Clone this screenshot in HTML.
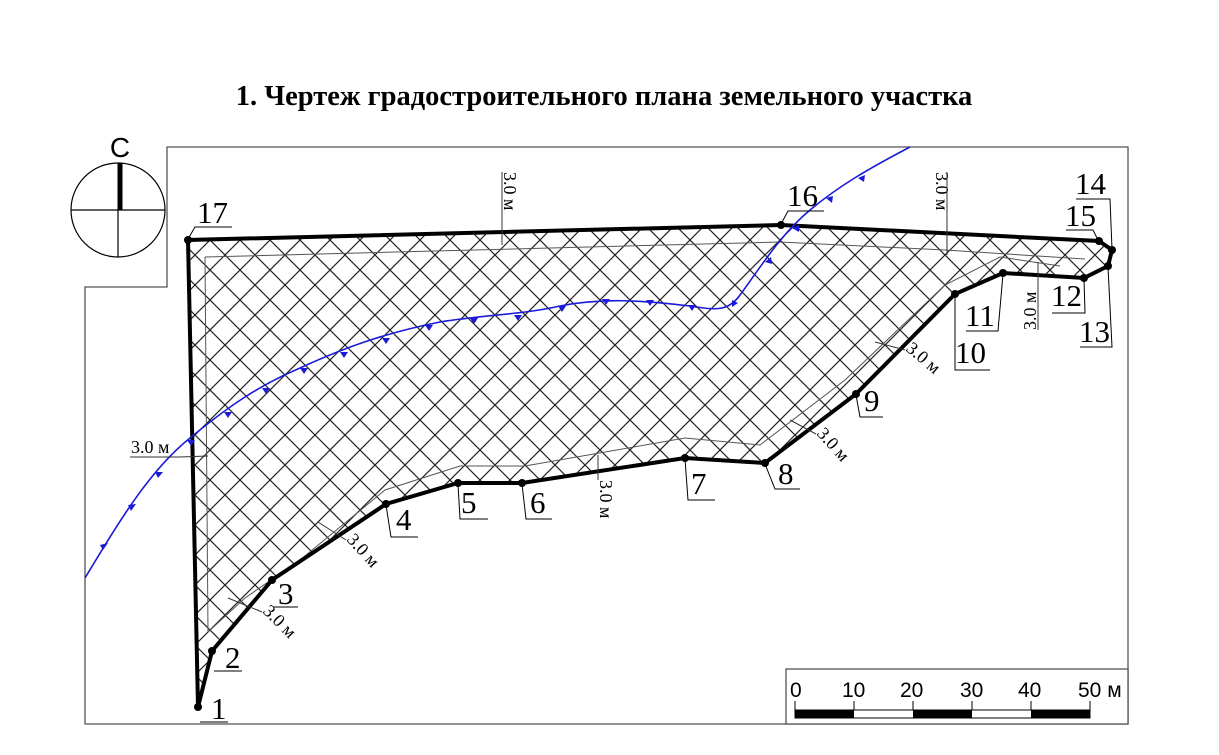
<!DOCTYPE html>
<html><head><meta charset="utf-8"><style>
body{margin:0;background:#fff;width:1219px;height:755px;overflow:hidden}
svg{display:block}
.t{font-family:"Liberation Serif",serif;font-size:31px;fill:#000}
.t path{fill:none;stroke:#000;stroke-width:1}
.s{font-family:"Liberation Serif",serif;font-size:18px;fill:#000}
.s path{fill:none;stroke:#333;stroke-width:1}
.a{font-family:"Liberation Sans",sans-serif;font-size:21px;fill:#000}
</style></head><body>
<svg width="1219" height="755" viewBox="0 0 1219 755">
<defs>
<pattern id="h" width="30" height="30" patternUnits="userSpaceOnUse">
<path d="M-2,2 L2,-2 M0,30 L30,0 M28,32 L32,28 M-2,28 L2,32 M0,0 L30,30 M28,-2 L32,2" stroke="#222" stroke-width="1.2"/>
</pattern>
<clipPath id="c"><polygon points="198,707 212,651 272,580 386,504 458,483 522,483 685,458 765,463 856,394 955,294 1003,273 1084,278 1108,266 1112,250 1099,241 781,225 188,240"/></clipPath>
</defs>
<text x="604" y="105" text-anchor="middle" font-family="Liberation Serif,serif" font-weight="bold" font-size="28.5">1. Чертеж градостроительного плана земельного участка</text>
<path d="M167,287 V147 H1128 V724 H85 V287 Z" fill="none" stroke="#555" stroke-width="1.3"/>
<text x="120" y="157" text-anchor="middle" font-family="Liberation Sans,sans-serif" font-size="28">С</text>
<circle cx="118" cy="210" r="47" fill="none" stroke="#000" stroke-width="1.2"/>
<path d="M71,210 H165 M118,210 V257" stroke="#000" stroke-width="1.2"/>
<path d="M120,163 V210" stroke="#000" stroke-width="5"/>
<rect x="180" y="220" width="940" height="495" fill="url(#h)" clip-path="url(#c)"/>
<polyline points="205,257 780,242 945,250 1085,259" fill="none" stroke="#555" stroke-width="1"/>
<polyline points="205,257 208,632 245,598 300,560 385,490 460,466 525,466 685,438 760,445 845,380 945,285 1000,257 1060,266" fill="none" stroke="#555" stroke-width="1"/>
<polygon points="198,707 212,651 272,580 386,504 458,483 522,483 685,458 765,463 856,394 955,294 1003,273 1084,278 1108,266 1112,250 1099,241 781,225 188,240" fill="none" stroke="#000" stroke-width="4"/>
<g fill="#000">
<circle cx="198" cy="707" r="4"/><circle cx="212" cy="651" r="4"/><circle cx="272" cy="580" r="4"/><circle cx="386" cy="504" r="4"/><circle cx="458" cy="483" r="4"/><circle cx="522" cy="483" r="4"/><circle cx="685" cy="458" r="4"/><circle cx="765" cy="463" r="4"/><circle cx="856" cy="394" r="4"/><circle cx="955" cy="294" r="4"/><circle cx="1003" cy="273" r="4"/><circle cx="1084" cy="278" r="4"/><circle cx="1108" cy="266" r="4"/><circle cx="1112" cy="250" r="4"/><circle cx="1099" cy="241" r="4"/><circle cx="781" cy="225" r="4"/><circle cx="188" cy="240" r="4"/>
</g>
<path d="M85,578 C120,520 150,470 190,438 C230,405 260,385 300,368 C350,345 390,332 440,322 C490,314 520,315 560,306 C600,298 640,300 690,306 C715,310 728,312 740,295 C760,268 780,235 810,210 C840,185 870,168 910,147" fill="none" stroke="#1a1ad8" stroke-width="1.6"/>
<g fill="#1a1ad8">
<path d="M100,545 l8,-2 l-5,7z"/><path d="M128,505 l8,-1 l-5,7z"/><path d="M155,472 l8,0 l-5,6z"/><path d="M187,440 l8,0 l-4,6z"/><path d="M224,412 l8,0 l-4,6z"/><path d="M262,388 l8,0 l-4,6z"/><path d="M300,368 l8,0 l-4,6z"/><path d="M340,352 l8,0 l-4,6z"/><path d="M382,338 l8,0 l-4,6z"/><path d="M425,325 l8,0 l-4,6z"/><path d="M470,318 l8,0 l-4,6z"/><path d="M514,315 l8,0 l-4,6z"/><path d="M558,306 l8,0 l-4,6z"/><path d="M602,299 l8,0 l-4,6z"/><path d="M646,300 l8,0 l-4,6z"/><path d="M688,305 l8,0 l-4,6z"/><path d="M732,300 l6,3 l-6,4z"/><path d="M765,262 l6,-5 l1,7z"/><path d="M792,228 l7,-3 l0,7z"/><path d="M826,198 l7,-2 l-1,7z"/><path d="M858,178 l7,-3 l-1,7z"/>
</g>
<g class="t">
<text x="211" y="719">1</text><path d="M200,722 H228"/>
<text x="225" y="668">2</text><path d="M214,671 H242"/>
<text x="278" y="604">3</text><path d="M273,607 H298"/>
<text x="396" y="530">4</text><path d="M386,505 L391,537 H418"/>
<text x="461" y="513">5</text><path d="M458,484 L460,519 H488"/>
<text x="530" y="513">6</text><path d="M522,484 L526,519 H552"/>
<text x="691" y="494">7</text><path d="M685,459 L688,500 H715"/>
<text x="778" y="484">8</text><path d="M765,464 L775,489 H800"/>
<text x="864" y="411">9</text><path d="M856,395 L860,417 H883"/>
<text x="955" y="363">10</text><path d="M955,295 V370 H990"/>
<text x="965" y="326">11</text><path d="M1003,274 L998,331 H966"/>
<text x="1051" y="306">12</text><path d="M1084,279 L1085,313 H1052"/>
<text x="1079" y="342">13</text><path d="M1108,267 L1112,347 H1080"/>
<text x="1075" y="194">14</text><path d="M1076,199 H1110 L1112,249"/>
<text x="1065" y="226">15</text><path d="M1066,230 H1093 L1098,240"/>
<text x="787" y="206">16</text><path d="M781,224 L788,211 H824"/>
<text x="197" y="223">17</text><path d="M188,239 L195,227 H232"/>
</g>
<g class="s">
<text x="131" y="453">3.0 м</text><path d="M130,457 H180 L208,456"/>
<text transform="translate(504,172) rotate(90)">3.0 м</text><path d="M502,172 V245"/>
<text transform="translate(936,172) rotate(90)">3.0 м</text><path d="M947,172 V255"/>
<text transform="translate(1036,330) rotate(-90)">3.0 м</text><path d="M1038,330 V262"/>
<text transform="translate(600,480) rotate(90)">3.0 м</text><path d="M598,455 V480"/>
<text transform="translate(905,350) rotate(40)">3.0 м</text><path d="M875,342 L905,350"/>
<text transform="translate(816,434) rotate(48)">3.0 м</text><path d="M790,420 L816,434"/>
<text transform="translate(346,540) rotate(48)">3.0 м</text><path d="M318,522 L346,540"/>
<text transform="translate(262,612) rotate(45)">3.0 м</text><path d="M228,598 L262,612"/>
</g>
<rect x="786" y="669" width="342" height="55" fill="#fff" stroke="#555" stroke-width="1.3"/>
<g class="a">
<text x="790" y="697">0</text><text x="842" y="697">10</text><text x="900" y="697">20</text><text x="960" y="697">30</text><text x="1018" y="697">40</text><text x="1078" y="697">50 м</text>
</g>
<path d="M795,701 V718 M854,701 V718 M913,701 V718 M972,701 V718 M1031,701 V718 M1090,701 V718" stroke="#000"/>
<rect x="795" y="710" width="295" height="8" fill="#fff" stroke="#000"/>
<rect x="795" y="710" width="59" height="8" fill="#000"/><rect x="913" y="710" width="59" height="8" fill="#000"/><rect x="1031" y="710" width="59" height="8" fill="#000"/>
</svg>
</body></html>
